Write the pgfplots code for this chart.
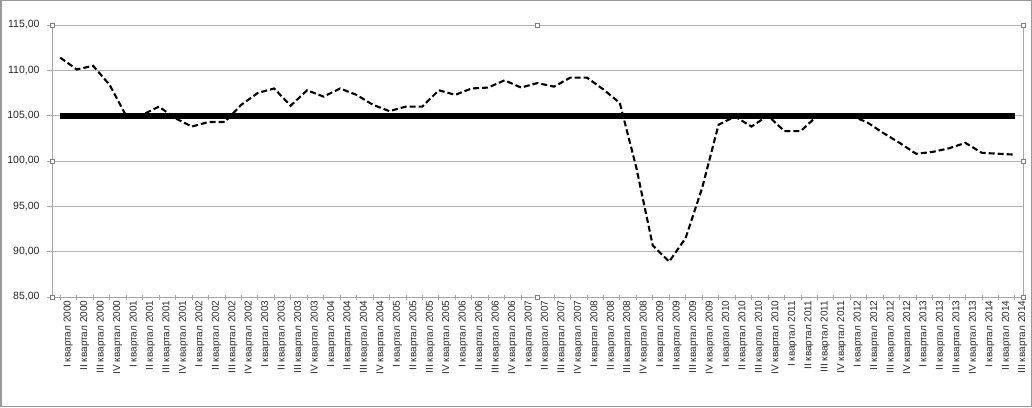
\documentclass[border=0pt]{standalone}
\usepackage{fontspec}
\setmainfont{Liberation Sans}
\usepackage{pgfplots}
\pgfplotsset{compat=1.18}

% quarterly index values, 2000 Q1 .. 2014 Q3
\pgfplotstableread{
i val
0 111.4
1 110.1
2 110.5
3 108.4
4 105.0
5 105.1
6 106.0
7 104.7
8 103.8
9 104.3
10 104.3
11 106.2
12 107.5
13 108.0
14 106.1
15 107.8
16 107.1
17 108.0
18 107.3
19 106.2
20 105.5
21 106.0
22 106.0
23 107.8
24 107.3
25 108.0
26 108.1
27 108.9
28 108.1
29 108.6
30 108.2
31 109.2
32 109.2
33 107.9
34 106.4
35 99.3
36 90.7
37 88.9
38 91.5
39 97.0
40 104.0
41 104.9
42 103.8
43 105.0
44 103.3
45 103.3
46 105.0
47 105.0
48 105.0
49 104.3
50 103.1
51 102.0
52 100.8
53 101.0
54 101.4
55 102.0
56 100.9
57 100.8
58 100.7
}\quarters

\tikzset{handle/.style={draw=gray, fill=white, line width=0.4pt, inner sep=0pt, minimum size=4pt}}

\begin{document}
\begin{tikzpicture}[x=1pt,y=1pt]
\useasboundingbox (0,0) rectangle (1032,407);
\draw[gray!80, line width=1.5pt] (0.75,0.75) rectangle (1031.25,406.25);
\begin{axis}[
    at={(52pt,110pt)}, anchor=south west,
    scale only axis,
    width=971pt, height=272pt,
    xmin=-0.5, xmax=58.5,
    ymin=85, ymax=115,
    ytick={85,90,...,115},
    xtick={0,...,58},
    xticklabels={I квартал 2000, II квартал 2000, III квартал 2000, IV квартал 2000,
      I квартал 2001, II квартал 2001, III квартал 2001, IV квартал 2001,
      I квартал 2002, II квартал 2002, III квартал 2002, IV квартал 2002,
      I квартал 2003, II квартал 2003, III квартал 2003, IV квартал 2003,
      I квартал 2004, II квартал 2004, III квартал 2004, IV квартал 2004,
      I квартал 2005, II квартал 2005, III квартал 2005, IV квартал 2005,
      I квартал 2006, II квартал 2006, III квартал 2006, IV квартал 2006,
      I квартал 2007, II квартал 2007, III квартал 2007, IV квартал 2007,
      I квартал 2008, II квартал 2008, III квартал 2008, IV квартал 2008,
      I квартал 2009, II квартал 2009, III квартал 2009, IV квартал 2009,
      I квартал 2010, II квартал 2010, III квартал 2010, IV квартал 2010,
      I квартал 2011, II квартал 2011, III квартал 2011, IV квартал 2011,
      I квартал 2012, II квартал 2012, III квартал 2012, IV квартал 2012,
      I квартал 2013, II квартал 2013, III квартал 2013, IV квартал 2013,
      I квартал 2014, II квартал 2014, III квартал 2014},
    xticklabel style={rotate=90, anchor=east, font=\fontsize{10}{12}\selectfont, text=black!85, inner sep=1pt, yshift=-8pt},
    yticklabel style={font=\fontsize{10.5}{12}\selectfont, text=black!85, xshift=-4pt},
    /pgf/number format/.cd, fixed, fixed zerofill, precision=2, use comma, 1000 sep={}, assume math mode=true,
    /pgfplots/.cd,
    ymajorgrids,
    grid style={gray!60, line width=0.8pt},
    axis x line*=bottom,
    axis y line*=left,
    axis line style={gray!70, line width=0.8pt},
    tick style={gray!70, line width=0.6pt},
    xtick align=center, major tick length=5pt,
    ytick align=outside,
    clip=false,
]
\addplot[black, line width=2.1pt, dash pattern=on 6pt off 3pt] table[x=i, y=val] {\quarters};
\addplot[black, line width=6pt] coordinates {(0,105) (58,105)};
\draw[gray!70, line width=0.8pt] (rel axis cs:1,0) -- (rel axis cs:1,1);
\node[handle] at (rel axis cs:0,0) {};
\node[handle] at (rel axis cs:0.5,0) {};
\node[handle] at (rel axis cs:1,0) {};
\node[handle] at (rel axis cs:0,0.5) {};
\node[handle] at (rel axis cs:1,0.5) {};
\node[handle] at (rel axis cs:0,1) {};
\node[handle] at (rel axis cs:0.5,1) {};
\node[handle] at (rel axis cs:1,1) {};
\end{axis}
\end{tikzpicture}
\end{document}
